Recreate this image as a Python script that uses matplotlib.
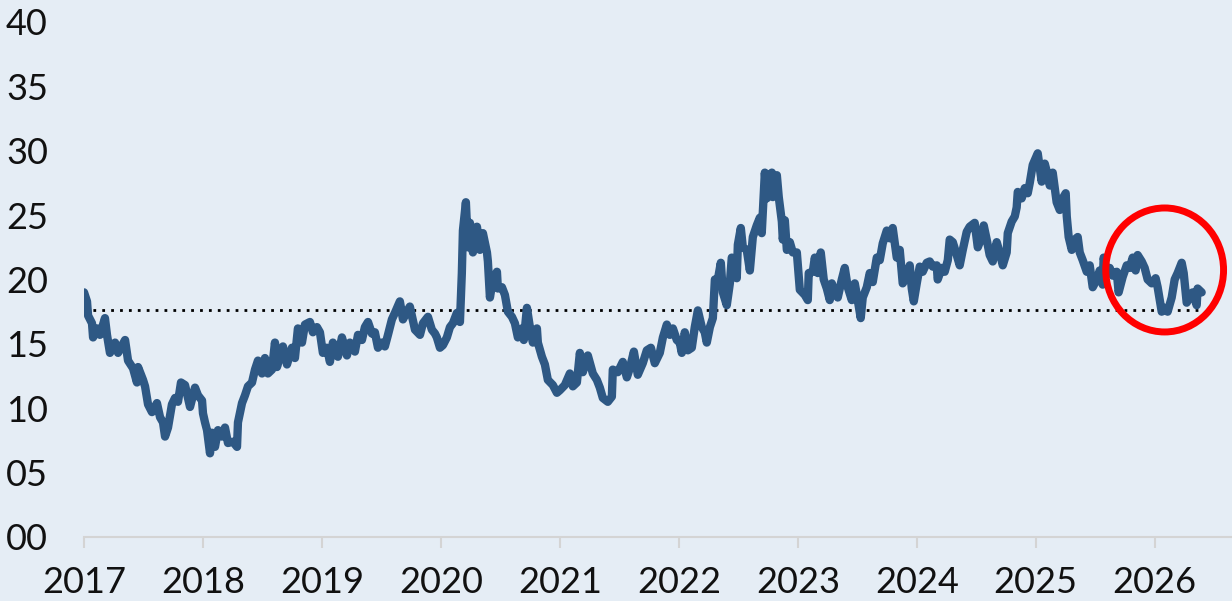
import matplotlib.pyplot as plt
from matplotlib.patches import Ellipse
import numpy as np

# decimal year offsets from 2017 and the value read at each one
t = [0.000, 0.025, 0.034, 0.067, 0.076, 0.109, 0.134, 0.176, 0.193, 0.218,
     0.261, 0.286, 0.345, 0.370, 0.412, 0.445, 0.454, 0.496, 0.513, 0.538,
     0.571, 0.613, 0.639, 0.664, 0.681, 0.706, 0.739, 0.765, 0.790, 0.815,
     0.849, 0.891, 0.933, 0.958, 0.992, 1.000, 1.017, 1.034, 1.059, 1.076,
     1.101, 1.126, 1.160, 1.185, 1.210, 1.252, 1.286, 1.294, 1.328, 1.353,
     1.378, 1.412, 1.437, 1.462, 1.496, 1.521, 1.546, 1.580, 1.605, 1.622,
     1.647, 1.672, 1.706, 1.748, 1.773, 1.798, 1.832, 1.857, 1.899, 1.924,
     1.958, 1.983, 2.008, 2.042, 2.067, 2.092, 2.134, 2.168, 2.210, 2.235,
     2.277, 2.303, 2.336, 2.361, 2.387, 2.420, 2.445, 2.471, 2.504, 2.529,
     2.555, 2.588, 2.613, 2.655, 2.681, 2.714, 2.739, 2.782, 2.824, 2.849,
     2.891, 2.924, 2.950, 2.966, 2.992, 3.017, 3.050, 3.076, 3.101, 3.134,
     3.160, 3.176, 3.185, 3.210, 3.227, 3.244, 3.269, 3.303, 3.328, 3.353,
     3.387, 3.395, 3.412, 3.437, 3.471, 3.479, 3.513, 3.538, 3.563, 3.597,
     3.622, 3.647, 3.681, 3.697, 3.723, 3.748, 3.773, 3.807, 3.815, 3.849,
     3.874, 3.899, 3.941, 3.975, 4.000, 4.042, 4.084, 4.109, 4.143, 4.168,
     4.193, 4.235, 4.277, 4.311, 4.336, 4.361, 4.403, 4.437, 4.445, 4.487,
     4.529, 4.563, 4.588, 4.622, 4.655, 4.697, 4.731, 4.765, 4.798, 4.840,
     4.866, 4.899, 4.924, 4.950, 4.983, 5.008, 5.025, 5.050, 5.076, 5.109,
     5.134, 5.160, 5.193, 5.218, 5.235, 5.261, 5.286, 5.303, 5.328, 5.353,
     5.370, 5.403, 5.429, 5.445, 5.471, 5.487, 5.496, 5.521, 5.538, 5.571,
     5.597, 5.622, 5.655, 5.681, 5.697, 5.706, 5.723, 5.739, 5.748, 5.782,
     5.790, 5.807, 5.824, 5.840, 5.866, 5.874, 5.891, 5.908, 5.933, 5.958,
     5.992, 6.017, 6.059, 6.084, 6.092, 6.126, 6.143, 6.168, 6.193, 6.218,
     6.244, 6.269, 6.286, 6.311, 6.336, 6.370, 6.395, 6.420, 6.454, 6.479,
     6.504, 6.529, 6.546, 6.580, 6.605, 6.630, 6.664, 6.689, 6.714, 6.748,
     6.773, 6.798, 6.832, 6.857, 6.882, 6.916, 6.941, 6.958, 6.975, 7.000,
     7.025, 7.050, 7.084, 7.109, 7.134, 7.168, 7.176, 7.210, 7.235, 7.261,
     7.277, 7.303, 7.336, 7.361, 7.387, 7.420, 7.445, 7.487, 7.513, 7.546,
     7.563, 7.588, 7.613, 7.639, 7.672, 7.697, 7.723, 7.756, 7.765, 7.798,
     7.824, 7.840, 7.849, 7.882, 7.908, 7.933, 7.950, 7.975, 8.017, 8.050,
     8.076, 8.101, 8.118, 8.143, 8.176, 8.202, 8.227, 8.252, 8.261, 8.277,
     8.303, 8.328, 8.353, 8.370, 8.395, 8.429, 8.454, 8.479, 8.513, 8.538,
     8.563, 8.571, 8.597, 8.622, 8.647, 8.681, 8.697, 8.731, 8.765, 8.790,
     8.815, 8.840, 8.857, 8.891, 8.916, 8.941, 8.975, 9.008, 9.025, 9.059,
     9.084, 9.109, 9.143, 9.168, 9.193, 9.227, 9.244, 9.269, 9.294, 9.319,
     9.353, 9.361, 9.395]

vals = [19.0, 18.3, 17.2, 16.6, 15.5, 16.2, 15.7, 17.0, 15.7, 14.3,
        15.1, 14.3, 15.3, 13.7, 13.1, 12.0, 13.2, 12.2, 11.7, 10.3,
        9.7, 10.4, 9.3, 8.9, 7.8, 8.5, 10.3, 10.8, 10.5, 12.0,
        11.8, 10.1, 11.6, 11.0, 10.6, 9.6, 8.9, 8.3, 6.5, 8.1,
        7.0, 8.3, 7.8, 8.5, 7.3, 7.4, 7.0, 8.9, 10.4, 11.0,
        11.7, 12.0, 13.0, 13.7, 12.7, 13.9, 12.7, 13.0, 15.1, 13.2,
        14.0, 14.8, 13.4, 14.7, 13.9, 16.2, 15.1, 16.5, 16.7, 15.9,
        16.3, 15.9, 14.3, 14.7, 13.6, 15.1, 14.0, 15.5, 14.1, 15.1,
        14.4, 15.7, 15.3, 16.3, 16.7, 15.8, 15.9, 14.7, 15.1, 14.8,
        15.7, 16.9, 17.4, 18.3, 16.9, 17.5, 17.9, 16.1, 15.7, 16.6,
        17.1, 16.1, 15.8, 15.5, 14.7, 14.9, 15.5, 16.3, 16.6, 17.4,
        16.7, 20.5, 23.8, 26.0, 22.5, 24.4, 22.1, 24.1, 22.3, 23.6,
        22.1, 21.4, 18.6, 20.0, 20.6, 19.3, 19.4, 18.8, 17.5, 17.1,
        16.6, 15.5, 16.2, 15.3, 17.8, 16.3, 15.1, 16.2, 15.1, 14.0,
        13.4, 12.2, 11.8, 11.2, 11.4, 11.8, 12.7, 11.7, 12.0, 14.3,
        12.8, 14.1, 12.7, 12.2, 11.6, 10.8, 10.5, 10.9, 13.0, 12.8,
        13.6, 12.4, 13.1, 14.4, 12.6, 13.5, 14.5, 14.7, 13.5, 14.3,
        15.5, 16.5, 15.7, 16.2, 15.3, 15.1, 14.3, 15.9, 14.5, 14.7,
        16.3, 17.6, 16.3, 15.9, 15.1, 16.3, 17.0, 20.0, 20.0, 21.3,
        19.0, 18.0, 19.7, 21.7, 21.5, 20.1, 22.7, 24.0, 22.5, 22.3,
        20.7, 23.3, 24.2, 24.8, 23.6, 25.2, 28.3, 26.3, 27.9, 28.3,
        26.4, 28.0, 28.1, 26.4, 24.5, 23.1, 24.6, 22.3, 22.9, 22.1,
        22.1, 19.2, 18.8, 18.4, 20.5, 20.6, 21.7, 20.5, 22.1, 20.0,
        19.3, 18.4, 19.7, 19.0, 18.6, 20.0, 20.9, 19.4, 18.4, 19.7,
        18.4, 17.0, 18.6, 19.4, 20.5, 19.8, 21.7, 21.5, 22.8, 23.8,
        23.2, 24.0, 21.7, 22.3, 19.7, 20.2, 21.1, 19.3, 18.3, 19.7,
        21.0, 20.6, 21.3, 21.4, 21.0, 21.1, 20.0, 20.9, 20.6, 21.5,
        23.1, 22.9, 21.9, 21.1, 22.3, 23.7, 24.1, 24.4, 22.5, 23.3,
        24.2, 23.1, 21.9, 21.4, 22.9, 22.1, 21.1, 22.1, 23.6, 24.5,
        24.9, 25.6, 26.8, 26.3, 27.1, 26.7, 27.5, 28.9, 29.8, 27.6,
        29.0, 28.1, 27.3, 28.3, 26.0, 25.4, 26.3, 26.7, 24.9, 23.3,
        22.3, 23.1, 23.3, 22.1, 21.5, 20.6, 21.1, 19.4, 20.0, 20.7,
        19.6, 21.7, 20.6, 20.9, 20.3, 20.6, 19.0, 20.2, 21.1, 20.9,
        21.7, 20.7, 21.9, 21.4, 20.9, 20.0, 19.7, 20.1, 19.4, 17.5,
        17.8, 17.5, 18.6, 20.0, 20.5, 21.3, 20.5, 18.2, 18.6, 19.0,
        18.0, 19.3, 19.0]

avg_level = 17.6
years = list(range(2017, 2027))
yticks = [0, 5, 10, 15, 20, 25, 30, 35, 40]

bg = '#e5edf5'
line_col = '#2e5884'
grey = '#d4d4d4'

plt.rcParams['font.family'] = ['Lato', 'DejaVu Sans']

x = 2017 + np.array(t)
fig = plt.figure(figsize=(12.32, 6.01), dpi=100, facecolor=bg)
ax = fig.add_axes([0.0682, 0.1065, 0.9318, 0.8569])
ax.set_facecolor(bg)

ax.plot(x, vals, color=line_col, lw=6, solid_joinstyle='round',
        solid_capstyle='round', zorder=3)
ax.plot([x[0], x[-1]], [avg_level, avg_level], color='black', lw=2,
        linestyle=(0, (1, 2.2)), zorder=2)

ring = Ellipse((2026.084, 20.74), 0.99, 9.63, fill=False, edgecolor='#ff0000',
               lw=5, clip_on=False, zorder=4)
ax.add_patch(ring)

ax.set_xlim(2017, 2026.65)
ax.set_ylim(0, 40)
ax.set_xticks(years)
ax.set_xticklabels([str(y) for y in years])
ax.set_yticks(yticks)
ax.set_yticklabels([f'{v:02d}' for v in yticks])

for s in ['top', 'right', 'left']:
    ax.spines[s].set_visible(False)
ax.spines['bottom'].set_color(grey)
ax.spines['bottom'].set_linewidth(1.5)
ax.tick_params(axis='x', direction='out', length=8, width=1.5, color=grey,
               labelsize=26, pad=13, labelcolor='#111111')
ax.tick_params(axis='y', length=0, labelsize=26, pad=26, labelcolor='#111111')

fig.savefig('out.png', dpi=100, facecolor=bg)
